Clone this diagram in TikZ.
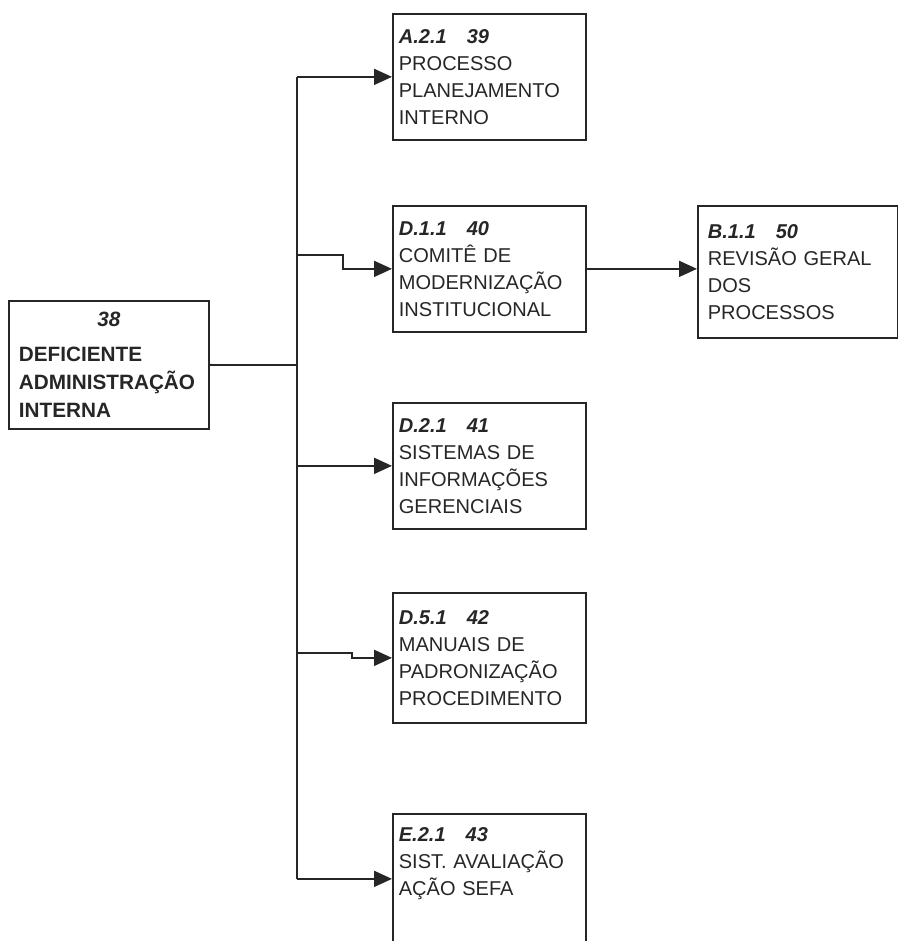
\documentclass[tikz,border=0pt]{standalone}
\usepackage{fontspec}
\setmainfont{Liberation Sans}
\usetikzlibrary{arrows.meta}

\tikzset{
  box/.style={draw, line width=1pt, anchor=north west, align=left,
    inner xsep=0.12cm, inner ysep=0pt, text width=3.62cm,
    minimum width=3.86cm, minimum height=2.52cm,
    font=\fontsize{11.4}{15.4}\selectfont},
  link/.style={line width=1pt, -{Triangle[length=0.36cm,width=0.32cm]}},
}
\newcommand{\hand}[1]{{\bfseries\itshape #1}}

\begin{document}
\begin{tikzpicture}[x=0.02cm,y=-0.02cm, black!85]
\useasboundingbox (0,0) rectangle (898,941);
\node[box, minimum width=4cm, minimum height=2.56cm, inner xsep=0.2cm, text width=3.6cm,
  font=\bfseries\fontsize{11.8}{16}\selectfont] (root) at (8,300)
  {\makebox[3.6cm]{\hand{38}}\\[4pt]DEFICIENTE\\ADMINISTRAÇÃO\\INTERNA};
\node[box] (plan) at (392,13) {\hand{A.2.1\quad 39}\\PROCESSO\\PLANEJAMENTO\\INTERNO};
\node[box] (comite) at (392,205) {\hand{D.1.1\quad 40}\\COMITÊ DE\\MODERNIZAÇÃO\\INSTITUCIONAL};
\node[box, minimum width=4cm, minimum height=2.64cm, inner xsep=0.2cm, text width=3.6cm] (revisao) at (697,205)
  {\hand{B.1.1\quad 50}\\REVISÃO GERAL\\DOS\\PROCESSOS};
\node[box] (sistemas) at (392,402) {\hand{D.2.1\quad 41}\\SISTEMAS DE\\INFORMAÇÕES\\GERENCIAIS};
\node[box, minimum height=2.6cm] (manuais) at (392,592) {\hand{D.5.1\quad 42}\\MANUAIS DE\\PADRONIZAÇÃO\\PROCEDIMENTO};
\node[box, minimum height=2.6cm] (avalia) at (392,813) {\hand{E.2.1\quad 43}\\SIST. AVALIAÇÃO\\AÇÃO SEFA\\\strut};
\coordinate (fork) at (297,365);
\coordinate (kink1) at (343,255);
\coordinate (kink2) at (352,653);
% tronco
\draw[line width=1pt] (root.east) -- (fork);
\draw[line width=1pt] (fork |- plan.west) -- (fork |- avalia.west);
% ramos
\draw[link] (fork |- plan.west) -- (plan.west);
\draw[link] (fork |- kink1) -- (kink1) -- (kink1 |- comite.west) -- (comite.west);
\draw[link] (fork |- sistemas.west) -- (sistemas.west);
\draw[link] (fork |- kink2) -- (kink2) -- (kink2 |- manuais.west) -- (manuais.west);
\draw[link] (fork |- avalia.west) -- (avalia.west);
\draw[link] (comite.east) -- (comite.east -| revisao.west);
\end{tikzpicture}
\end{document}
